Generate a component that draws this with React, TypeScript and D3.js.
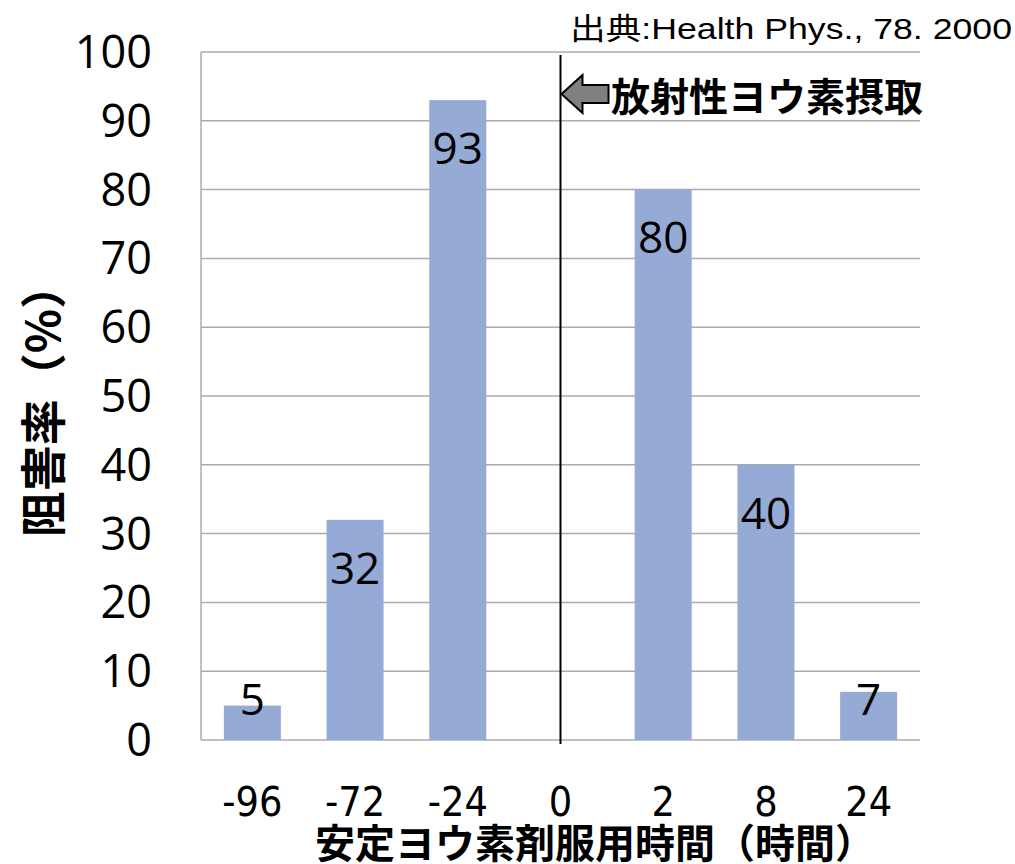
import React from 'react';
import * as d3 from 'd3';

const categories: string[] = ['-96', '-72', '-24', '0', '2', '8', '24'];
const values: (number | null)[] = [5, 32, 93, null, 80, 40, 7];
const yTicks: number[] = [0, 10, 20, 30, 40, 50, 60, 70, 80, 90, 100];
const markerCategory = '0';
const sourceText = '出典:Health Phys., 78. 2000';
const annotationText = '放射性ヨウ素摂取';
const yTitle = '阻害率（%）';
const xTitle = '安定ヨウ素剤服用時間（時間）';

const W = 1015;
const H = 864;
const plot = { left: 201, right: 920, top: 52, bottom: 740 };

const CJK = '"Noto Sans CJK JP", "Noto Sans CJK SC", sans-serif';
const NUM = '"Open Sans", "Noto Sans", sans-serif';
const NARROW = '"Liberation Sans Narrow", "DejaVu Sans Condensed", "Liberation Sans", sans-serif';

export default function App() {
  const x = d3
    .scaleBand<string>()
    .domain(categories)
    .range([plot.left, plot.right])
    .paddingInner(0.445)
    .paddingOuter(0.2225);
  const y = d3.scaleLinear().domain([0, 100]).range([plot.bottom, plot.top]);

  const valFs = 44;
  const tickFs = 45;
  const xFs = 41;
  const mx = (x(markerCategory) ?? 0) + x.bandwidth() / 2;

  const arrowY = 94;
  const tipX = mx + 1;
  const arrow = d3.path();
  arrow.moveTo(tipX, arrowY);
  arrow.lineTo(tipX + 21, arrowY - 19);
  arrow.lineTo(tipX + 21, arrowY - 9);
  arrow.lineTo(tipX + 47, arrowY - 9);
  arrow.lineTo(tipX + 47, arrowY + 9);
  arrow.lineTo(tipX + 21, arrowY + 9);
  arrow.lineTo(tipX + 21, arrowY + 19);
  arrow.closePath();

  return (
    <svg
      width={W}
      height={H}
      style={{ position: 'absolute', left: 0, top: 0, background: '#fff' }}
    >
      <rect x={0} y={0} width={W} height={H} fill="#fff" />
      {/* gridlines */}
      {yTicks.map((t) => (
        <line
          key={'g' + t}
          x1={plot.left}
          x2={plot.right}
          y1={y(t)}
          y2={y(t)}
          stroke="#ababab"
          strokeWidth={1.5}
        />
      ))}
      <line x1={plot.left} x2={plot.left} y1={plot.top} y2={plot.bottom} stroke="#ababab" strokeWidth={1.5} />
      {/* bars */}
      {categories.map((c, i) => {
        const v = values[i];
        if (v == null) return null;
        return (
          <rect
            key={'b' + c}
            x={x(c)}
            y={y(v)}
            width={x.bandwidth()}
            height={y(0) - y(v)}
            fill="#95aad4"
          />
        );
      })}
      {/* value labels */}
      {categories.map((c, i) => {
        const v = values[i];
        if (v == null) return null;
        const cy = Math.min(y(v) + 48, y(0) - 41);
        return (
          <text
            key={'v' + c}
            x={(x(c) ?? 0) + x.bandwidth() / 2}
            y={cy + valFs * 0.357}
            textAnchor="middle"
            fontFamily={NUM}
            fontSize={valFs}
            fill="#000"
          >
            {v}
          </text>
        );
      })}
      {/* marker line at 0 */}
      <line x1={mx} x2={mx} y1={y(100) + 3} y2={y(0) + 4} stroke="#000" strokeWidth={2} />
      {/* y tick labels */}
      {yTicks.map((t) => (
        <text
          key={'t' + t}
          x={152}
          y={y(t) + tickFs * 0.357}
          textAnchor="end"
          fontFamily={NUM}
          fontSize={tickFs}
          fill="#000"
        >
          {t}
        </text>
      ))}
      {/* x tick labels */}
      {categories.map((c) => (
        <text
          key={'x' + c}
          x={(x(c) ?? 0) + x.bandwidth() / 2}
          y={816}
          textAnchor="middle"
          fontFamily={NARROW}
          fontSize={xFs}
          fill="#000"
        >
          {c}
        </text>
      ))}
      {/* x title */}
      <text
        x={595}
        y={858}
        textAnchor="middle"
        fontFamily={CJK}
        fontWeight={700}
        fontSize={40}
        fill="#000"
      >
        {xTitle}
      </text>
      {/* y title */}
      <text
        transform={`translate(${60},${400}) rotate(-90)`}
        textAnchor="middle"
        fontFamily={CJK}
        fontWeight={700}
        fontSize={46}
        fill="#000"
      >
        {yTitle}
      </text>
      {/* source */}
      <text
        x={570}
        y={39}
        textAnchor="start"
        textLength={442}
        lengthAdjust="spacingAndGlyphs"
        fontFamily={'"Liberation Sans", Arial, ' + CJK}
        fontSize={30}
        fill="#000"
      >
        {sourceText}
      </text>
      {/* annotation */}
      <path d={arrow.toString()} fill="#808080" stroke="#000" strokeWidth={2} strokeLinejoin="miter" />
      <text
        x={611}
        y={111}
        textAnchor="start"
        fontFamily={CJK}
        fontWeight={700}
        fontSize={39}
        fill="#000"
      >
        {annotationText}
      </text>
    </svg>
  );
}
